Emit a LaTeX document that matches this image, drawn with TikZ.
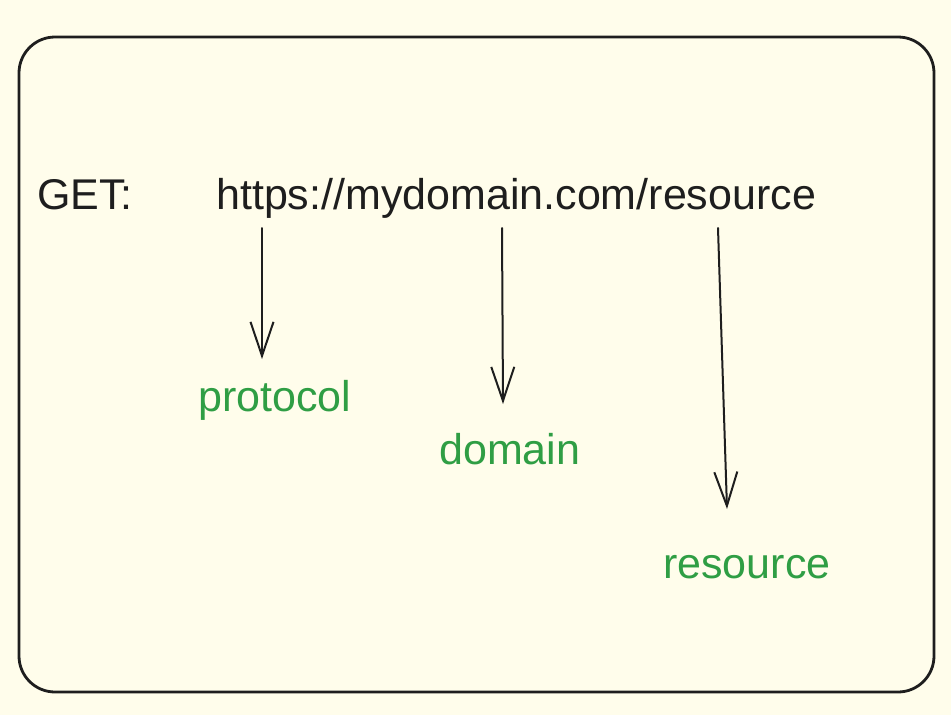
\documentclass[tikz,border=0pt]{standalone}
\usepackage{fontspec}
\setmainfont{Liberation Sans}
\usetikzlibrary{arrows.meta}
\definecolor{paper}{HTML}{FFFDEB}
\definecolor{ink}{HTML}{1E1E1E}
\definecolor{leaf}{HTML}{2F9E44}
\begin{document}
\begin{tikzpicture}[x=1pt, y=-1pt,
                    main text/.style={anchor=base west,inner sep=0pt,text=ink,font=\fontsize{43}{49}\selectfont},
                    part node/.style={anchor=base west,inner sep=0pt,text=leaf,font=\fontsize{43}{49}\selectfont},
                    pointer/.style={draw=ink,line width=2pt,line cap=round,-{Straight Barb[length=34pt,width=23pt,line width=2pt]}}]

	\fill[paper] (0,0) rectangle (951,715);
	\useasboundingbox (0,0) rectangle (951,715);

	\draw[ink, line width=2.8pt, rounded corners=36pt] (19,37) rectangle (934,692);

	\node[main text] (get) at (37,209) {GET:};
	\node[main text] (url) at (216,209) {https://mydomain.com/resource};

	\node[part node] (protocol) at (198,411) {protocol};
	\node[part node] (domain) at (439,464) {domain};
	\node[part node] (resource) at (663,578) {resource};

	\coordinate (s1) at (262,228);
	\coordinate (e1) at (262,359);
	\coordinate (s2) at (502,228);
	\coordinate (e2) at (503,404);
	\coordinate (s3) at (718,228);
	\coordinate (e3) at (727,509);

  \path
    (s1) edge[pointer] (e1)
    (s2) edge[pointer] (e2)
    (s3) edge[pointer] (e3)
       ;

\end{tikzpicture}
\end{document}
